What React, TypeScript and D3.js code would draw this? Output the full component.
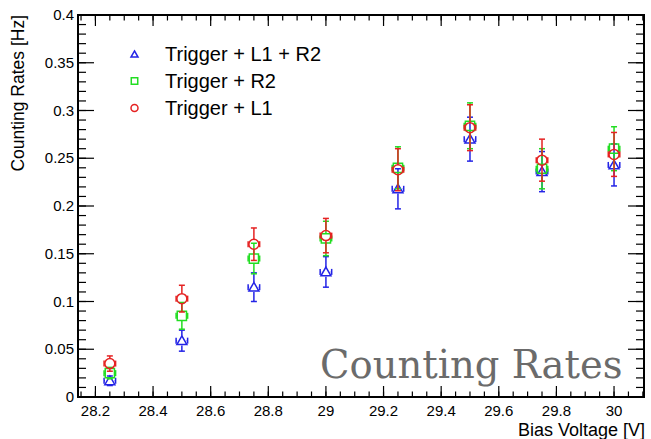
import React from "react";
import * as d3 from "d3";

const voltages = [28.25, 28.5, 28.75, 29, 29.25, 29.5, 29.75, 30];
const xErr = 0.02;
const blueVals = [0.017, 0.059, 0.115, 0.131, 0.218, 0.27, 0.236, 0.243];
const blueErrs = [0.005, 0.011, 0.015, 0.016, 0.021, 0.023, 0.021, 0.022];
const greenVals = [0.025, 0.085, 0.145, 0.166, 0.24, 0.284, 0.239, 0.26];
const greenErrs = [0.006, 0.014, 0.016, 0.018, 0.022, 0.024, 0.021, 0.023];
const redVals = [0.035, 0.103, 0.16, 0.169, 0.238, 0.282, 0.248, 0.254];
const redErrs = [0.008, 0.014, 0.017, 0.018, 0.022, 0.024, 0.022, 0.023];
const seriesNames = ["Trigger + L1 + R2", "Trigger + R2", "Trigger + L1"];
const xMajorTicks = [28.2, 28.4, 28.6, 28.8, 29, 29.2, 29.4, 29.6, 29.8, 30];
const yMajorTicks = [0, 0.05, 0.1, 0.15, 0.2, 0.25, 0.3, 0.35, 0.4];
const xTickLabels = ["28.2", "28.4", "28.6", "28.8", "29", "29.2", "29.4", "29.6", "29.8", "30"];
const yTickLabels = ["0", "0.05", "0.1", "0.15", "0.2", "0.25", "0.3", "0.35", "0.4"];

const W = 651, H = 439;
const L = 78, R = 644, T = 15, B = 397;
const FONT = "'Liberation Sans', Arial, Helvetica, sans-serif";

const series = [
  { name: seriesNames[0], vals: blueVals, errs: blueErrs, color: "#2323e6", shape: "tri" },
  { name: seriesNames[1], vals: greenVals, errs: greenErrs, color: "#22dd22", shape: "sq" },
  { name: seriesNames[2], vals: redVals, errs: redErrs, color: "#e52222", shape: "circ" },
];

function Marker({ shape, cx, cy, s, color }: any) {
  const sym =
    shape === "tri" ? d3.symbolTriangle : shape === "sq" ? d3.symbolSquare : d3.symbolCircle;
  let area: number;
  if (shape === "tri") area = (Math.sqrt(3) / 4) * s * s;
  else if (shape === "sq") area = s * s * 0.85;
  else area = Math.PI * (s / 2) * (s / 2);
  const p = d3.symbol().type(sym).size(area)() as string;
  return (
    <path d={p} transform={`translate(${cx},${cy + (shape === "tri" ? 1 : 0)})`} fill="none" stroke={color} strokeWidth={1.5} />
  );
}

export default function App() {
  const x = d3.scaleLinear().domain([28.1395, 30.104]).range([L, R]);
  const y = d3.scaleLinear().domain([0, 0.4]).range([B, T]);

  const xMinor = d3.range(28.15, 30.11, 0.05).map((v) => +v.toFixed(2));
  const yMinor = d3.range(0, 0.4001, 0.01).map((v) => +v.toFixed(2));

  const r = 4.8;
  const cap = 3;

  return (
    <svg width={W} height={H} style={{ position: "absolute", left: 0, top: 0, background: "#fff" }} fontFamily={FONT}>
      <rect x={0} y={0} width={W} height={H} fill="#fff" />
      {xMinor.map((v, i) => (
        <g key={"xm" + i} stroke="#000" strokeWidth={1.2}>
          <line x1={x(v)} x2={x(v)} y1={B} y2={B - 5.5} />
          <line x1={x(v)} x2={x(v)} y1={T} y2={T + 5.5} />
        </g>
      ))}
      {xMajorTicks.map((v, i) => (
        <g key={"xM" + i} stroke="#000" strokeWidth={1.2}>
          <line x1={x(v)} x2={x(v)} y1={B} y2={B - 11} />
          <line x1={x(v)} x2={x(v)} y1={T} y2={T + 11} />
        </g>
      ))}
      {yMinor.map((v, i) => (
        <g key={"ym" + i} stroke="#000" strokeWidth={1.2}>
          <line x1={L} x2={L + 8} y1={y(v)} y2={y(v)} />
          <line x1={R} x2={R - 8} y1={y(v)} y2={y(v)} />
        </g>
      ))}
      {yMajorTicks.map((v, i) => (
        <g key={"yM" + i} stroke="#000" strokeWidth={1.2}>
          <line x1={L} x2={L + 16} y1={y(v)} y2={y(v)} />
          <line x1={R} x2={R - 16} y1={y(v)} y2={y(v)} />
        </g>
      ))}
      <rect x={L} y={T} width={R - L} height={B - T} fill="none" stroke="#000" strokeWidth={2} />

      {xMajorTicks.map((v, i) => (
        <text key={"xl" + i} x={x(v)} y={416} fontSize={15} textAnchor="middle" fill="#000">
          {xTickLabels[i]}
        </text>
      ))}
      {yMajorTicks.map((v, i) => (
        <text key={"yl" + i} x={74} y={y(v) + 5} fontSize={15} textAnchor="end" fill="#000">
          {yTickLabels[i]}
        </text>
      ))}

      <text x={645} y={436} fontSize={18} textAnchor="end" fill="#000">Bias Voltage [V]</text>
      <text transform={`translate(24,15) rotate(-90)`} fontSize={17.5} textAnchor="end" fill="#000">
        Counting Rates [Hz]
      </text>

      <text x={320} y={378} fontSize={38.5} fontFamily="'DejaVu Serif', serif" fill="#6b6b6b">
        Counting Rates
      </text>

      {series.map((s, si) => (
        <g key={"s" + si} stroke={s.color} strokeWidth={1.5}>
          {voltages.map((v, i) => {
            const cx = x(v);
            const cy = y(s.vals[i]);
            const yt = y(s.vals[i] + s.errs[i]);
            const yb = y(s.vals[i] - s.errs[i]);
            const xl = x(v - xErr);
            const xr = x(v + xErr);
            return (
              <g key={i}>
                {cy - yt > r && <line x1={cx} x2={cx} y1={yt} y2={cy - r} />}
                {yb - cy > r && <line x1={cx} x2={cx} y1={cy + r} y2={yb} />}
                <line x1={cx - cap} x2={cx + cap} y1={yt} y2={yt} />
                <line x1={cx - cap} x2={cx + cap} y1={yb} y2={yb} />
                <line x1={xl} x2={cx - r} y1={cy} y2={cy} />
                <line x1={cx + r} x2={xr} y1={cy} y2={cy} />
                <line x1={xl} x2={xl} y1={cy - cap} y2={cy + cap} />
                <line x1={xr} x2={xr} y1={cy - cap} y2={cy + cap} />
                <Marker shape={s.shape} cx={cx} cy={cy} s={10} color={s.color} />
              </g>
            );
          })}
        </g>
      ))}

      {series.map((s, si) => (
        <g key={"lg" + si}>
          <Marker shape={s.shape} cx={134.5} cy={54 + si * 27} s={7} color={s.color} />
          <text x={165} y={61 + si * 27} fontSize={20} fill="#000">
            {s.name}
          </text>
        </g>
      ))}
    </svg>
  );
}
